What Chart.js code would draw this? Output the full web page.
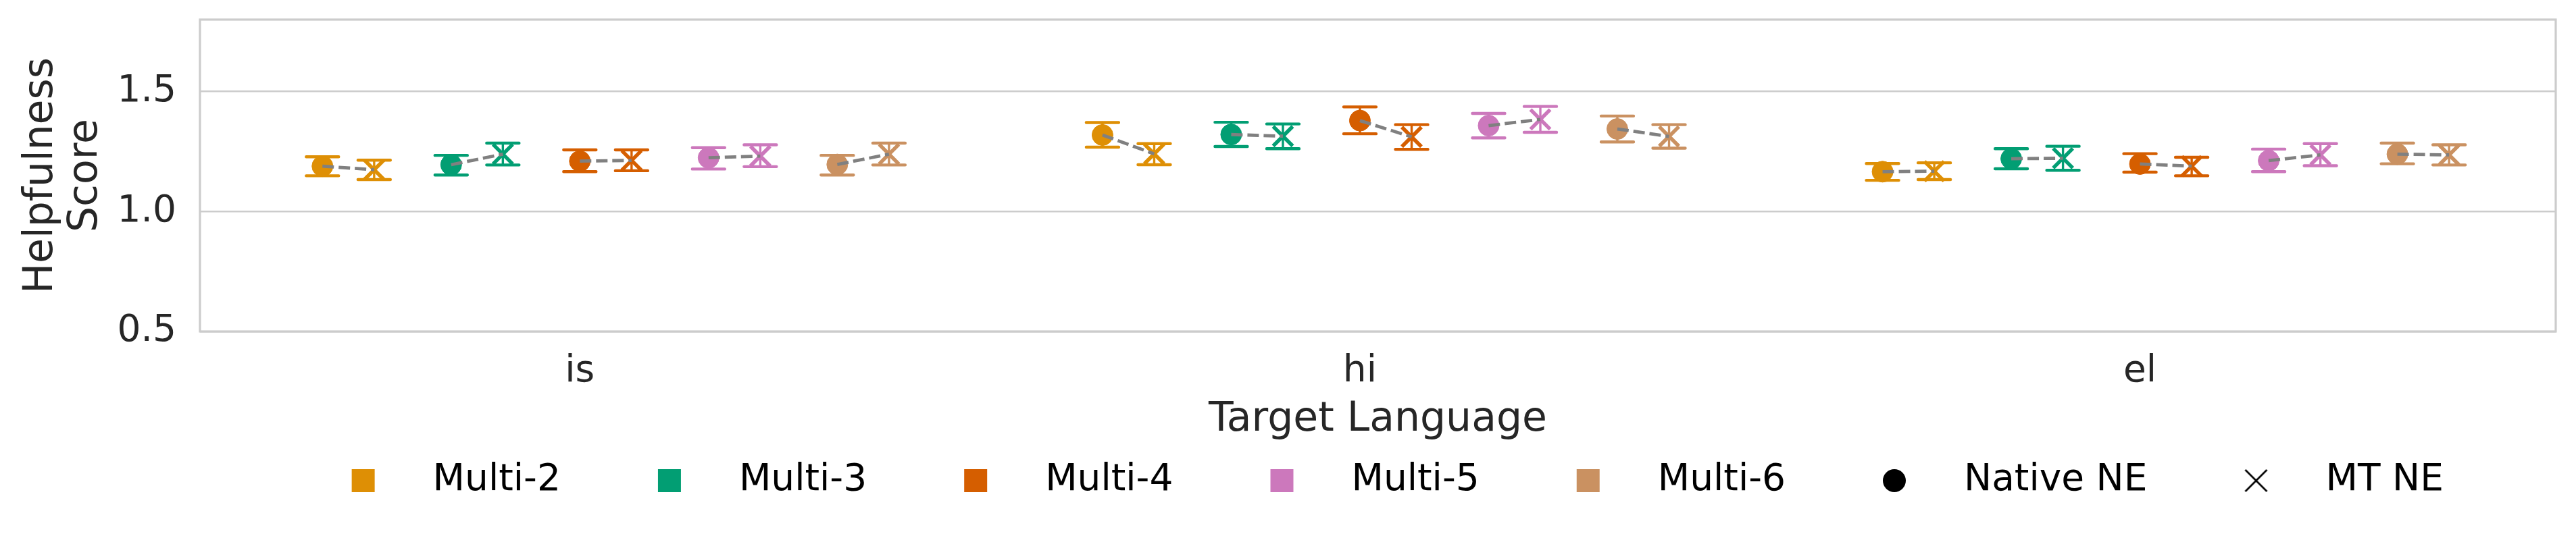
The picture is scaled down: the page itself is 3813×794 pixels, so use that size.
<!DOCTYPE html>
<html>
<head>
<meta charset="utf-8">
<script src="https://cdn.jsdelivr.net/npm/chart.js@4.4.1/dist/chart.umd.min.js"></script>
<style>
  html, body { margin: 0; padding: 0; background: #ffffff; }
  #wrap { width: 3813px; height: 794px; }
</style>
</head>
<body>
<div id="wrap"><canvas id="chart"></canvas></div>
<script>
const languages = ['is', 'hi', 'el'];
const models = ['Multi-2', 'Multi-3', 'Multi-4', 'Multi-5', 'Multi-6'];
const modelColors = ['#de8f05', '#029e73', '#d55e00', '#cc78bc', '#ca9161'];
const yTicks = [0.5, 1.0, 1.5];

// rows = models, columns = is, hi, el
const nativeMean = [
  [1.189, 1.319, 1.166],
  [1.195, 1.321, 1.220],
  [1.210, 1.379, 1.198],
  [1.224, 1.358, 1.212],
  [1.196, 1.344, 1.239]
];
const nativeLow = [
  [1.149, 1.268, 1.130],
  [1.152, 1.271, 1.178],
  [1.166, 1.324, 1.164],
  [1.177, 1.307, 1.166],
  [1.152, 1.290, 1.199]
];
const nativeHigh = [
  [1.228, 1.371, 1.200],
  [1.234, 1.372, 1.262],
  [1.257, 1.436, 1.241],
  [1.266, 1.409, 1.260],
  [1.234, 1.398, 1.285]
];
const mtMean = [
  [1.174, 1.240, 1.168],
  [1.239, 1.314, 1.222],
  [1.213, 1.311, 1.189],
  [1.231, 1.384, 1.236],
  [1.239, 1.313, 1.236]
];
const mtLow = [
  [1.133, 1.195, 1.133],
  [1.194, 1.262, 1.172],
  [1.170, 1.259, 1.149],
  [1.187, 1.330, 1.191],
  [1.194, 1.264, 1.194]
];
const mtHigh = [
  [1.214, 1.283, 1.203],
  [1.285, 1.365, 1.272],
  [1.257, 1.362, 1.226],
  [1.278, 1.438, 1.283],
  [1.285, 1.362, 1.278]
];

// dodge offsets (in category units)
const hueStep = 0.165;
const mtShift = 0.0663;
const nativeX = (m, c) => c + (m - 2) * hueStep;
const mtX = (m, c) => nativeX(m, c) + mtShift;

Chart.defaults.font.family = '"DejaVu Sans", sans-serif';
Chart.defaults.color = '#262626';

const datasets = [];
models.forEach((name, m) => {
  datasets.push({
    type: 'scatter',
    label: name + ' native',
    data: languages.map((l, c) => ({ x: nativeX(m, c), y: nativeMean[m][c] })),
    pointStyle: 'circle',
    pointRadius: 15.5,
    backgroundColor: modelColors[m],
    borderColor: modelColors[m],
    borderWidth: 1,
    order: 1
  });
  datasets.push({
    type: 'scatter',
    label: name + ' MT',
    data: languages.map((l, c) => ({ x: mtX(m, c), y: mtMean[m][c] })),
    pointStyle: 'crossRot',
    pointRadius: 20.5,
    backgroundColor: modelColors[m],
    borderColor: modelColors[m],
    borderWidth: 5.5,
    order: 1
  });
  const link = [];
  languages.forEach((l, c) => {
    link.push({ x: nativeX(m, c), y: nativeMean[m][c] });
    link.push({ x: mtX(m, c), y: mtMean[m][c] });
    link.push({ x: mtX(m, c) + 0.01, y: null });
  });
  datasets.push({
    type: 'line',
    label: name + ' link',
    data: link,
    borderColor: '#808080',
    borderWidth: 4.8,
    borderDash: [17, 7],
    pointRadius: 0,
    fill: false,
    spanGaps: false,
    order: 0
  });
});

function makeMarker(kind, color) {
  const c = document.createElement('canvas');
  c.width = 36; c.height = 36;
  const g = c.getContext('2d');
  if (kind === 'square') {
    g.fillStyle = color;
    g.fillRect(1, 1, 34, 34);
  } else if (kind === 'circle') {
    g.fillStyle = color;
    g.beginPath();
    g.arc(18, 18, 17, 0, 2 * Math.PI);
    g.fill();
  } else {
    g.strokeStyle = color;
    g.lineWidth = 2.6;
    g.beginPath();
    g.moveTo(2, 2); g.lineTo(34, 34);
    g.moveTo(34, 2); g.lineTo(2, 34);
    g.stroke();
  }
  return c;
}

const legendItems = models.map((name, m) => ({
  text: name, pointStyle: makeMarker('square', modelColors[m]),
  fillStyle: modelColors[m], strokeStyle: modelColors[m], lineWidth: 0, hidden: false
})).concat([
  { text: 'Native NE', pointStyle: makeMarker('circle', '#000000'), fillStyle: '#000', strokeStyle: '#000', lineWidth: 0, hidden: false },
  { text: 'MT NE', pointStyle: makeMarker('x', '#000000'), fillStyle: '#000', strokeStyle: '#000', lineWidth: 0, hidden: false }
]);

const frameAndErrors = {
  id: 'frameAndErrors',
  beforeDatasetsDraw(chart) {
    const { ctx, chartArea: a, scales: { x, y } } = chart;
    ctx.save();
    ctx.strokeStyle = '#cccccc';
    ctx.lineWidth = 3.2;
    ctx.strokeRect(a.left, a.top, a.right - a.left, a.bottom - a.top);
    ctx.lineCap = 'round';
    const bar = (xv, lo, hi, color) => {
      const px = x.getPixelForValue(xv);
      const pLo = y.getPixelForValue(lo);
      const pHi = y.getPixelForValue(hi);
      ctx.strokeStyle = color;
      ctx.lineWidth = 3.4;
      ctx.beginPath();
      ctx.moveTo(px, pLo); ctx.lineTo(px, pHi);
      ctx.stroke();
      ctx.lineWidth = 4.4;
      ctx.beginPath();
      ctx.moveTo(px - 24, pLo); ctx.lineTo(px + 24, pLo);
      ctx.moveTo(px - 24, pHi); ctx.lineTo(px + 24, pHi);
      ctx.stroke();
    };
    models.forEach((name, m) => {
      languages.forEach((l, c) => {
        bar(nativeX(m, c), nativeLow[m][c], nativeHigh[m][c], modelColors[m]);
        bar(mtX(m, c), mtLow[m][c], mtHigh[m][c], modelColors[m]);
      });
    });
    ctx.restore();
  }
};

new Chart(document.getElementById('chart'), {
  type: 'scatter',
  data: { datasets },
  plugins: [frameAndErrors],
  options: {
    responsive: true,
    maintainAspectRatio: false,
    animation: false,
    layout: { padding: { left: 0, right: 30, top: 29, bottom: 44.5 } },
    plugins: {
      tooltip: { enabled: false },
      legend: {
        position: 'bottom',
        fullSize: false,
        labels: {
          usePointStyle: true,
          pointStyleWidth: 151,
          padding: 85.5,
          color: '#262626',
          font: { size: 55 },
          generateLabels: () => legendItems
        }
      }
    },
    scales: {
      x: {
        type: 'linear',
        min: -0.487,
        max: 2.533,
        grid: { display: false, drawTicks: false },
        border: { display: false },
        afterBuildTicks: s => { s.ticks = languages.map((l, i) => ({ value: i })); },
        ticks: {
          padding: 27,
          font: { size: 55 },
          color: '#262626',
          callback: v => languages[Math.round(v)]
        },
        title: {
          display: true,
          text: 'Target Language',
          color: '#262626',
          font: { size: 60 },
          padding: { top: 0, bottom: -59 }
        },
        afterFit: s => { s.height = 108; s.paddingLeft = 0; s.paddingRight = 0; }
      },
      y: {
        min: 0.5,
        max: 1.8,
        grid: { color: '#cccccc', lineWidth: 2.6, drawTicks: false },
        border: { display: false },
        afterBuildTicks: s => { s.ticks = yTicks.map(v => ({ value: v })); },
        ticks: {
          padding: 35,
          font: { size: 55 },
          color: '#262626',
          callback: v => v.toFixed(1)
        },
        title: {
          display: true,
          text: ['Helpfulness', 'Score'],
          color: '#262626',
          font: { size: 60, lineHeight: 1.1 },
          padding: { top: 28, bottom: 0 }
        },
        afterFit: s => { s.width = 296; s.paddingTop = 0; s.paddingBottom = 0; }
      }
    }
  }
});
</script>
</body>
</html>
